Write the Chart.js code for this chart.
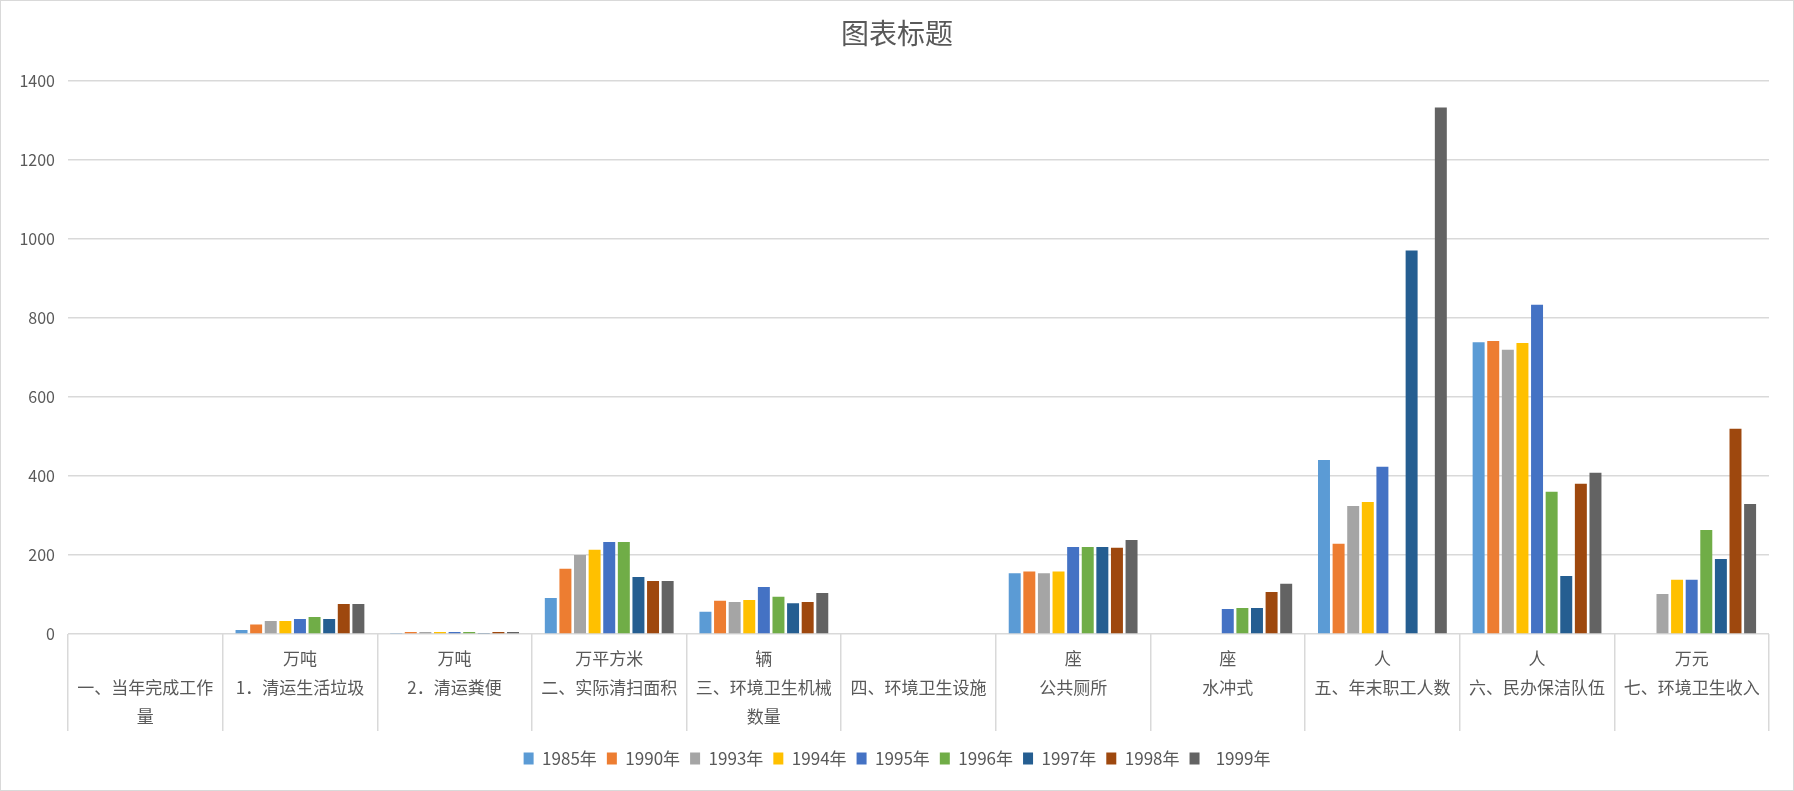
<!DOCTYPE html>
<html>
<head>
<meta charset="utf-8">
<script src="https://cdn.jsdelivr.net/npm/chart.js@4/dist/chart.umd.min.js"></script>
<style>
  html, body { margin: 0; padding: 0; background: #fff; }
  #wrap { position: relative; width: 1794px; height: 791px; box-sizing: border-box; border: 1px solid #d9d9d9; }
  canvas { display: block; }
</style>
</head>
<body>
<div id="wrap"><canvas id="c" width="1792" height="789"></canvas></div>
<script>
// ---- data ----
const units = ['', '万吨', '万吨', '万平方米', '辆', '', '座', '座', '人', '人', '万元'];
const categoryNames = [
  ['一、当年完成工作', '量'],
  ['1．清运生活垃圾'],
  ['2．清运粪便'],
  ['二、实际清扫面积'],
  ['三、环境卫生机械', '数量'],
  ['四、环境卫生设施'],
  ['公共厕所'],
  ['水冲式'],
  ['五、年末职工人数'],
  ['六、民办保洁队伍'],
  ['七、环境卫生收入']
];
const seriesNames = ['1985年', '1990年', '1993年', '1994年', '1995年', '1996年', '1997年', '1998年', '  1999年'];
const v1985 = [null, 10, 2.5, 91, 56, null, 154, null, 440, 738, null];
const v1990 = [null, 24, 5, 165, 84, null, 158, null, 228, 741, null];
const v1993 = [null, 33, 5, 200, 81, null, 154, null, 324, 719, 101];
const v1994 = [null, 33, 5, 213, 86, null, 158, null, 334, 736, 137];
const v1995 = [null, 38, 5, 233, 119, null, 220, 63, 423, 833, 137];
const v1996 = [null, 43, 5, 233, 94, null, 220, 66, null, 360, 263];
const v1997 = [null, 38, 2.5, 144, 78, null, 220, 66, 970, 147, 190];
const v1998 = [null, 76, 5, 134, 81, null, 218, 106, null, 380, 519];
const v1999 = [null, 76, 5, 134, 104, null, 238, 127, 1332, 408, 329];
const yTicks = [0, 200, 400, 600, 800, 1000, 1200, 1400];

// ---- styling ----
const colors = ['#5B9BD5', '#ED7D31', '#A5A5A5', '#FFC000', '#4472C4', '#70AD47', '#255E91', '#9E480E', '#636363'];
const allValues = [v1985, v1990, v1993, v1994, v1995, v1996, v1997, v1998, v1999];
const FONT = '"Noto Sans CJK SC", "Noto Sans", sans-serif';
const TXT = '#595959';
const GRID = '#d9d9d9';

const labels = categoryNames.map((n, i) => [units[i]].concat(n));

new Chart(document.getElementById('c'), {
  type: 'bar',
  data: {
    labels: labels,
    datasets: seriesNames.map((name, i) => ({
      label: name,
      data: allValues[i],
      backgroundColor: colors[i],
      borderWidth: 0,
      categoryPercentage: 0.85,
      barPercentage: 0.82
    }))
  },
  options: {
    responsive: false,
    animation: false,
    layout: { padding: { left: 0, right: 0, top: 0, bottom: 13 } },
    plugins: {
      title: {
        display: true,
        text: '图表标题',
        color: TXT,
        font: { family: FONT, size: 28, weight: 'normal' },
        padding: { top: 16, bottom: 30 }
      },
      legend: {
        position: 'bottom',
        labels: {
          color: TXT,
          font: { family: FONT, size: 17 },
          boxWidth: 10,
          boxHeight: 12,
          padding: 10
        }
      },
      tooltip: { enabled: false }
    },
    scales: {
      x: {
        grid: {
          display: true,
          drawOnChartArea: false,
          drawTicks: true,
          tickLength: 97,
          color: GRID,
          lineWidth: 1.5,
          offset: true
        },
        border: { display: false },
        ticks: {
          color: TXT,
          font: { family: FONT, size: 17, lineHeight: 1.7 },
          padding: -87,
          autoSkip: false,
          maxRotation: 0,
          minRotation: 0
        },
        afterFit: (s) => { s.height = 106; }
      },
      y: {
        min: 0,
        max: 1400,
        grid: { color: GRID, lineWidth: 1.5, drawTicks: false },
        border: { display: false },
        afterBuildTicks: (s) => { s.ticks = yTicks.map(v => ({ value: v })); },
        ticks: {
          color: TXT,
          font: { family: FONT, size: 16 },
          padding: 13,
          callback: (v) => String(v)
        },
        afterFit: (s) => { s.width = 67; }
      },
      yRight: {
        position: 'right',
        grid: { display: false, drawTicks: false },
        border: { display: false },
        ticks: { display: false },
        afterFit: (s) => { s.width = 24; }
      }
    }
  }
});
</script>
</body>
</html>
